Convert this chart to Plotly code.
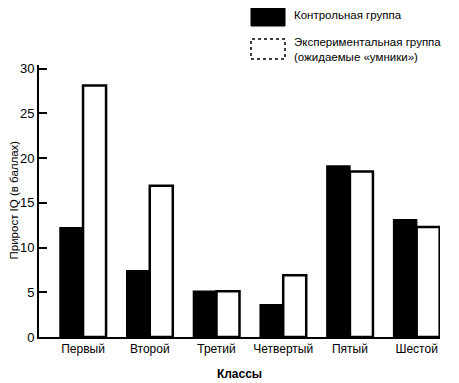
import plotly.graph_objects as go

categories = ["Первый", "Второй", "Третий", "Четвертый", "Пятый", "Шестой"]
control = [12.2, 7.4, 5.1, 3.6, 19.1, 13.1]
experimental = [28.1, 16.9, 5.1, 6.9, 18.5, 12.3]
y_ticks = [0, 5, 10, 15, 20, 25, 30]

OFF = 8  # page body margin
W, H = 459 - OFF, 383 - OFF
L, R, T, B = 39 - OFF, 19, 65 - OFF, 46
pw, ph = W - L - R, H - T - B

def px(x):
    return (x - OFF - L) / pw

def py(y):
    return (H - B - (y - OFF)) / ph

FONT = "Liberation Sans, Arial, sans-serif"

fig = go.Figure()
fig.add_trace(go.Bar(x=categories, y=control, name="Контрольная группа",
                     marker=dict(color="black", line=dict(color="black", width=1.5))))
fig.add_trace(go.Bar(x=categories, y=experimental, name="Экспериментальная группа",
                     marker=dict(color="white", line=dict(color="black", width=2.5))))

shapes = [
    dict(type="rect", xref="paper", yref="paper", x0=px(251), x1=px(285), y0=py(26), y1=py(6),
         fillcolor="black", line=dict(color="black", width=1)),
    dict(type="rect", xref="paper", yref="paper", x0=px(251), x1=px(285), y0=py(59), y1=py(39),
         fillcolor="white", line=dict(color="black", width=1.5, dash="dot")),
]
annotations = [
    dict(text="Контрольная группа", xref="paper", yref="paper", x=px(292), y=py(15),
         xanchor="left", yanchor="middle", showarrow=False, font=dict(size=11.5, color="black", family=FONT)),
    dict(text="Экспериментальная группа<br>(ожидаемые «умники»)", xref="paper", yref="paper",
         x=px(292), y=py(49), xanchor="left", yanchor="middle", align="left", showarrow=False,
         font=dict(size=11.5, color="black", family=FONT)),
    dict(text="Прирост IQ (в баллах)", xref="paper", yref="paper", x=px(13.5), y=py(200),
         xanchor="center", yanchor="middle", textangle=-90, showarrow=False,
         font=dict(size=11.5, color="black", family=FONT)),
]

fig.update_layout(
    width=W, height=H,
    margin=dict(l=L, r=R, t=T, b=B),
    paper_bgcolor="white", plot_bgcolor="white",
    barmode="group", bargap=0.31, bargroupgap=0,
    showlegend=False,
    font=dict(family=FONT, size=12, color="black"),
    shapes=shapes, annotations=annotations,
    xaxis=dict(range=[-0.66, 5.35], showline=True, linecolor="black", linewidth=2,
               ticks="", showgrid=False, zeroline=False, automargin=False,
               title=dict(text="<b>Классы</b>", font=dict(size=12), standoff=14)),
    yaxis=dict(range=[0, 30.4], tickvals=y_ticks, showline=True, linecolor="black", linewidth=2,
               ticks="inside", ticklen=8, tickwidth=1.5, tickcolor="black",
               showgrid=False, zeroline=False, tickfont=dict(size=13), automargin=False),
)

fig.write_html("out.html")
